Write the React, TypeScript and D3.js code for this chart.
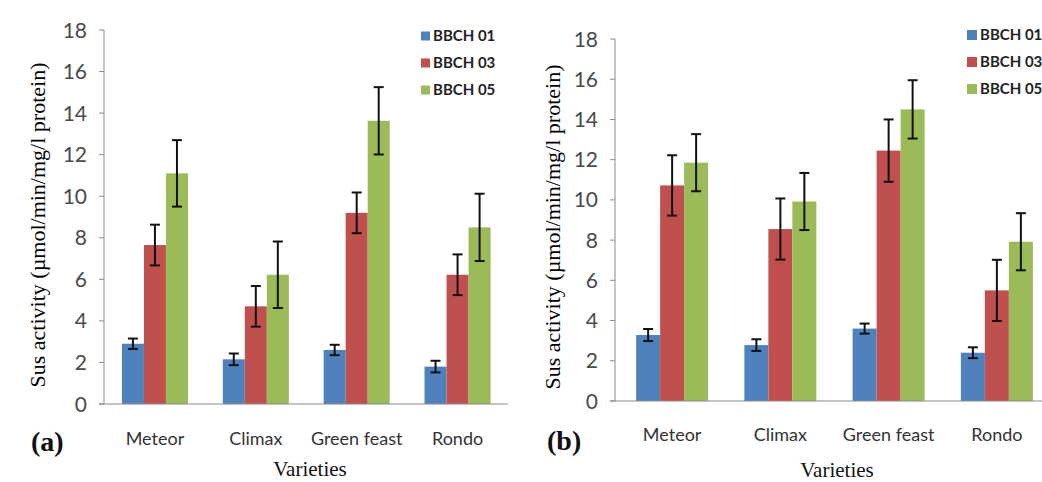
import React from "react";
import * as d3 from "d3";

const categories = ["Meteor", "Climax", "Green feast", "Rondo"];
const seriesNames = ["BBCH 01", "BBCH 03", "BBCH 05"];
const seriesColors = ["#4F81BD", "#C0504D", "#9BBB59"];
const yTicks = [0, 2, 4, 6, 8, 10, 12, 14, 16, 18];

// Panel (a)
const a_bbch01 = [2.9, 2.15, 2.6, 1.8];
const a_bbch01_err = [0.25, 0.28, 0.25, 0.28];
const a_bbch03 = [7.65, 4.7, 9.2, 6.22];
const a_bbch03_err = [0.98, 0.98, 0.98, 0.98];
const a_bbch05 = [11.1, 6.22, 13.63, 8.5];
const a_bbch05_err = [1.6, 1.6, 1.62, 1.62];

// Panel (b)
const b_bbch01 = [3.28, 2.78, 3.6, 2.4];
const b_bbch01_err = [0.3, 0.29, 0.25, 0.27];
const b_bbch03 = [10.72, 8.55, 12.45, 5.5];
const b_bbch03_err = [1.5, 1.52, 1.55, 1.52];
const b_bbch05 = [11.85, 9.92, 14.5, 7.92];
const b_bbch05_err = [1.42, 1.42, 1.45, 1.42];

type PanelProps = {
  values: number[][];
  errors: number[][];
  axisX: number;
  bandStart: number;
  bandEnd: number;
  xAxisEnd: number;
  y0: number;
  y18: number;
  groupFrac: number;
  tickLabelX: number;
  catY: number;
  titleX: number;
  titleY: number;
  variety: [number, number];
  letter: string;
  letterPos: [number, number];
  legendX: number;
  legendY: number[];
  legendSq: number;
};

function Panel(p: PanelProps) {
  const x = d3.scaleBand<string>().domain(categories).range([p.bandStart, p.bandEnd]).padding(0);
  const y = d3.scaleLinear().domain([0, 18]).range([p.y0, p.y18]);
  const step = x.bandwidth();
  const groupW = step * p.groupFrac;
  const sub = d3
    .scaleBand<string>()
    .domain(seriesNames)
    .range([(step - groupW) / 2, (step + groupW) / 2]);
  const bw = sub.bandwidth();
  const capHalf = 5;
  return (
    <g>
      {/* y axis */}
      <line x1={p.axisX} x2={p.axisX} y1={y(0)} y2={y(18)} stroke="#8a8a8a" strokeWidth={1} />
      {yTicks.map((t) => (
        <g key={t}>
          <line x1={p.axisX - 5} x2={p.axisX} y1={y(t)} y2={y(t)} stroke="#8a8a8a" strokeWidth={1} />
          <text
            x={p.tickLabelX}
            y={y(t)}
            dy="0.36em"
            textAnchor="end"
            fontFamily="Lato, 'Open Sans', sans-serif"
            fontSize={21}
            fill="#4a4a4a"
          >
            {t}
          </text>
        </g>
      ))}
      {/* bars */}
      {categories.map((c, ci) => (
        <g key={c}>
          {seriesNames.map((s, si) => {
            const v = p.values[si][ci];
            const e = p.errors[si][ci];
            const bx = (x(c) as number) + (sub(s) as number);
            const cx = bx + bw / 2;
            return (
              <g key={s}>
                <rect x={bx} y={y(v)} width={bw} height={y(0) - y(v)} fill={seriesColors[si]} />
                <line x1={cx} x2={cx} y1={y(v - e)} y2={y(v + e)} stroke="#111" strokeWidth={2} />
                <line x1={cx - capHalf} x2={cx + capHalf} y1={y(v + e)} y2={y(v + e)} stroke="#111" strokeWidth={2} />
                <line x1={cx - capHalf} x2={cx + capHalf} y1={y(v - e)} y2={y(v - e)} stroke="#111" strokeWidth={2} />
              </g>
            );
          })}
          <text
            x={(x(c) as number) + step / 2}
            y={p.catY}
            textAnchor="middle"
            fontFamily="Lato, 'Open Sans', sans-serif"
            fontSize={18}
            fill="#333"
          >
            {c}
          </text>
        </g>
      ))}
      {/* x axis */}
      <line x1={p.axisX - 5} x2={p.xAxisEnd} y1={y(0)} y2={y(0)} stroke="#8a8a8a" strokeWidth={1} />
      {/* y title */}
      <text
        transform={`translate(${p.titleX},${p.titleY}) rotate(-90)`}
        textAnchor="middle"
        dy="0.35em"
        fontFamily="'Liberation Serif', 'Times New Roman', serif"
        fontSize={22}
        fill="#000"
      >
        Sus activity (µmol/min/mg/l protein)
      </text>
      <text
        x={p.variety[0]}
        y={p.variety[1]}
        textAnchor="middle"
        fontFamily="'Liberation Serif', 'Times New Roman', serif"
        fontSize={21}
        fill="#111"
      >
        Varieties
      </text>
      <text
        x={p.letterPos[0]}
        y={p.letterPos[1]}
        fontFamily="'Liberation Serif', 'Times New Roman', serif"
        fontWeight="bold"
        fontSize={28}
        fill="#111"
      >
        {p.letter}
      </text>
      {/* legend */}
      {seriesNames.map((s, si) => (
        <g key={s}>
          <rect
            x={p.legendX}
            y={p.legendY[si] - p.legendSq / 2}
            width={p.legendSq}
            height={p.legendSq}
            fill={seriesColors[si]}
          />
          <text
            x={p.legendX + p.legendSq + 3}
            y={p.legendY[si]}
            dy="0.36em"
            fontFamily="Lato, 'Open Sans', sans-serif"
            fontWeight="bold"
            fontSize={15}
            fill="#222"
          >
            {s}
          </text>
        </g>
      ))}
    </g>
  );
}

export default function App() {
  return (
    <div style={{ position: "absolute", left: 0, top: 0 }}>
      <svg width={1042} height={482} style={{ display: "block", background: "#fff" }}>
        <Panel
          values={[a_bbch01, a_bbch03, a_bbch05]}
          errors={[a_bbch01_err, a_bbch03_err, a_bbch05_err]}
          axisX={104}
          bandStart={104.5}
          bandEnd={508}
          xAxisEnd={508}
          y0={404}
          y18={30}
          groupFrac={0.655}
          tickLabelX={87}
          catY={445}
          titleX={37}
          titleY={225}
          variety={[310, 476]}
          letter="(a)"
          letterPos={[31, 451]}
          legendX={421}
          legendY={[36, 63, 90]}
          legendSq={9}
        />
        <Panel
          values={[b_bbch01, b_bbch03, b_bbch05]}
          errors={[b_bbch01_err, b_bbch03_err, b_bbch05_err]}
          axisX={615}
          bandStart={618}
          bandEnd={1051}
          xAxisEnd={1042}
          y0={401}
          y18={39}
          groupFrac={0.665}
          tickLabelX={598}
          catY={441}
          titleX={552}
          titleY={227}
          variety={[837, 477]}
          letter="(b)"
          letterPos={[547, 450]}
          legendX={967}
          legendY={[35, 62, 89]}
          legendSq={10}
        />
      </svg>
    </div>
  );
}
